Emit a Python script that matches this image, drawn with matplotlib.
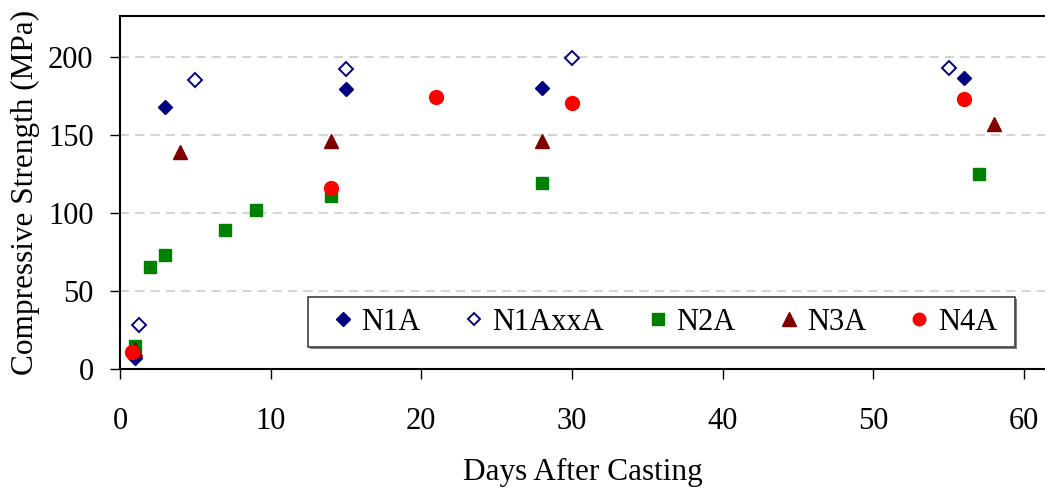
import matplotlib
matplotlib.use("Agg")
import matplotlib.pyplot as plt
from matplotlib.patches import Rectangle

# data (days, MPa)
n1a_days = [1, 3, 15, 28, 56]
n1a_mpa = [7, 168, 179, 180, 186]

n1axxa_days = [1.25, 5, 15, 30, 55]
n1axxa_mpa = [28, 185, 192, 199, 193]

n2a_days = [1, 2, 3, 7, 9, 14, 28, 57]
n2a_mpa = [15, 65, 73, 89, 102, 111, 119, 125]

n3a_days = [1, 4, 14, 28, 58]
n3a_mpa = [13, 139, 146, 146, 157]

n4a_days = [0.8, 14, 21, 30, 56]
n4a_mpa = [11, 116, 174, 170, 173]

x_ticks = [0, 10, 20, 30, 40, 50, 60]
y_ticks = [0, 50, 100, 150, 200]

plt.rcParams["font.family"] = ["Liberation Serif", "DejaVu Serif"]

fig = plt.figure(figsize=(10.45, 4.93), dpi=100)
ax = fig.add_axes([0.1148, 0.2515, 0.8852, 0.716])

ax.plot(n1a_days, n1a_mpa, "D", color="#000080", markersize=7.5, label="N1A", zorder=3)
ax.plot(n1axxa_days, n1axxa_mpa, "D", color="#000080", markerfacecolor="white",
        markeredgewidth=1.4, markersize=7, label="N1AxxA", zorder=3)
ax.plot(n2a_days, n2a_mpa, "s", color="#008000", markersize=9, label="N2A", zorder=3)
ax.plot(n3a_days, n3a_mpa, "^", color="#800000", markersize=10.5, label="N3A", zorder=3)
ax.plot(n4a_days, n4a_mpa, "o", color="#FF0000", markersize=10, label="N4A", zorder=3)

ax.set_xlim(0, 61.4)
ax.set_ylim(0, 226)
ax.set_xticks(x_ticks)
ax.set_yticks(y_ticks)

# dashed grey grid lines, none on the axis itself
for y in y_ticks[1:]:
    ax.axhline(y, color="#c8c8c8", linestyle=(0, (6, 4)), linewidth=1.1, zorder=1)

ax.spines["right"].set_visible(False)
for side in ["left", "bottom", "top"]:
    ax.spines[side].set_linewidth(1.5)

ax.tick_params(axis="both", direction="out", length=7, width=1, labelsize=22)
ax.tick_params(axis="y", pad=12)
ax.tick_params(axis="x", pad=20)

ax.set_xlabel("Days After Casting", fontsize=22.5, labelpad=16)
ax.set_ylabel("Compressive Strength (MPa)", fontsize=22.5, labelpad=6)

# legend frame drawn by hand (with a small shadow), entries packed inside it
ax.add_patch(Rectangle((0.2054, 0.0566), 0.7643, 0.1416, transform=ax.transAxes,
                       facecolor="#808080", edgecolor="none", zorder=4))
ax.add_patch(Rectangle((0.2032, 0.0623), 0.7643, 0.1416, transform=ax.transAxes,
                       facecolor="white", edgecolor="#404040", linewidth=1.2, zorder=5))
leg = ax.legend(loc="center left", bbox_to_anchor=(0.2314, 0.0623, 0.7168, 0.1416),
                mode="expand", ncol=5, fontsize=22, frameon=False,
                markerscale=0.9, handlelength=0.6, handletextpad=0.3,
                borderpad=0, borderaxespad=0, columnspacing=1.0)
leg.set_zorder(6)

fig.savefig("out.png", dpi=100)
